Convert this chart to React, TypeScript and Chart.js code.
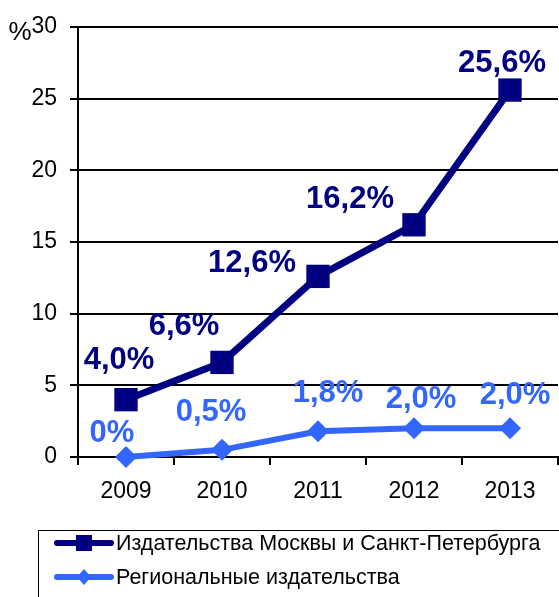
import React, { useEffect, useRef } from "react";
import { Chart, registerables } from "chart.js";

Chart.register(...registerables);

const years = ["2009", "2010", "2011", "2012", "2013"];
const moscowSpb = [4.0, 6.6, 12.6, 16.2, 25.6];
const regional = [0, 0.5, 1.8, 2.0, 2.0];
const seriesNames = [
  "Издательства Москвы и Санкт-Петербурга",
  "Региональные издательства",
];
const yTicks = [0, 5, 10, 15, 20, 25, 30];

const DARK = "#000080";
const LIGHT = "#3366FF";
const FONT = "'Liberation Sans', Arial, sans-serif";

// label offsets (px) relative to each point
const darkOffsets = [
  [-7, -40],
  [-38, -37],
  [-66, -14],
  [-64, -26],
  [-8, -28],
];
const lightOffsets = [
  [-14, -25],
  [-11, -38],
  [10, -39],
  [7, -30],
  [5, -34],
];

const fmt = (v: number) => (v === 0 ? "0%" : v.toFixed(1).replace(".", ",") + "%");

const labelsPlugin = {
  id: "customLabels",
  afterDatasetsDraw(chart: any) {
    const ctx = chart.ctx;
    ctx.save();
    ctx.font = `bold 31px ${FONT}`;
    ctx.textAlign = "center";
    ctx.textBaseline = "middle";
    const sets = [
      { idx: 0, data: moscowSpb, color: DARK, off: darkOffsets },
      { idx: 1, data: regional, color: LIGHT, off: lightOffsets },
    ];
    sets.forEach((s) => {
      const meta = chart.getDatasetMeta(s.idx);
      ctx.fillStyle = s.color;
      meta.data.forEach((pt: any, i: number) => {
        ctx.fillText(fmt(s.data[i]), pt.x + s.off[i][0], pt.y + s.off[i][1] + 1);
      });
    });
    ctx.restore();
  },
  afterDraw(chart: any) {
    const ctx = chart.ctx;
    ctx.save();
    // percent sign
    ctx.fillStyle = "#000";
    ctx.font = `26px ${FONT}`;
    ctx.textAlign = "center";
    ctx.textBaseline = "middle";
    ctx.fillText("%", 20, 33);

    // legend box
    ctx.strokeStyle = "#000";
    ctx.lineWidth = 1;
    ctx.strokeRect(38.5, 530.5, 560, 100);

    const rows = [
      { y: 543, color: DARK, marker: "square", text: seriesNames[0] },
      { y: 577, color: LIGHT, marker: "diamond", text: seriesNames[1] },
    ];
    rows.forEach((r) => {
      ctx.strokeStyle = r.color;
      ctx.fillStyle = r.color;
      ctx.lineWidth = 6;
      ctx.lineCap = "round";
      ctx.beginPath();
      ctx.moveTo(57, r.y);
      ctx.lineTo(111, r.y);
      ctx.stroke();
      const cx = 84;
      if (r.marker === "square") {
        ctx.fillRect(cx - 8, r.y - 8, 16, 16);
      } else {
        ctx.beginPath();
        ctx.moveTo(cx, r.y - 8);
        ctx.lineTo(cx + 7, r.y);
        ctx.lineTo(cx, r.y + 8);
        ctx.lineTo(cx - 7, r.y);
        ctx.closePath();
        ctx.fill();
      }
      ctx.fillStyle = "#000";
      ctx.font = `21.5px ${FONT}`;
      ctx.textAlign = "left";
      ctx.textBaseline = "middle";
      ctx.fillText(r.text, 116, r.y + 1);
    });
    ctx.restore();
  },
};

export default function App() {
  const ref = useRef<HTMLCanvasElement>(null);
  useEffect(() => {
    if (!ref.current) return;
    const chart = new Chart(ref.current, {
      type: "line",
      data: {
        labels: years,
        datasets: [
          {
            label: seriesNames[0],
            data: moscowSpb,
            borderColor: DARK,
            backgroundColor: DARK,
            borderWidth: 7,
            pointStyle: "rect",
            pointRadius: 16.5,
            pointBorderWidth: 0,
            tension: 0,
            clip: false,
          },
          {
            label: seriesNames[1],
            data: regional,
            borderColor: LIGHT,
            backgroundColor: LIGHT,
            borderWidth: 6,
            pointStyle: "rectRot",
            pointRadius: 11,
            pointBorderWidth: 0,
            tension: 0,
            clip: false,
          },
        ],
      },
      options: {
        animation: false,
        responsive: true,
        maintainAspectRatio: false,
        layout: { autoPadding: false, padding: { top: 27, right: 1, left: 0, bottom: 0 } },
        plugins: {
          legend: { display: false },
          tooltip: { enabled: false },
        },
        scales: {
          x: {
            offset: true,
            grid: {
              display: true,
              offset: true,
              drawOnChartArea: false,
              tickLength: 8,
              color: "#000",
              lineWidth: 2,
            },
            border: { color: "#000", width: 2 },
            ticks: {
              color: "#000",
              font: { family: FONT, size: 23 },
              padding: 13,
              maxRotation: 0,
            },
            afterFit(scale: any) {
              scale.height = 140;
              scale.paddingLeft = 0;
              scale.paddingRight = 0;
            },
          },
          y: {
            min: 0,
            max: 30,
            afterBuildTicks(scale: any) {
              scale.ticks = yTicks.map((v) => ({ value: v }));
            },
            grid: {
              color: "#000",
              lineWidth: 2,
              tickLength: 8,
            },
            border: { color: "#000", width: 2 },
            ticks: {
              color: "#000",
              font: { family: FONT, size: 23 },
              padding: 13,
            },
            afterFit(scale: any) {
              scale.width = 78;
              scale.paddingTop = 0;
              scale.paddingBottom = 0;
            },
          },
        },
      },
      plugins: [labelsPlugin],
    } as any);
    return () => chart.destroy();
  }, []);
  return (
    <div style={{ position: "fixed", left: 0, top: 0, width: 559, height: 597, background: "#fff" }}>
      <canvas ref={ref} />
    </div>
  );
}
